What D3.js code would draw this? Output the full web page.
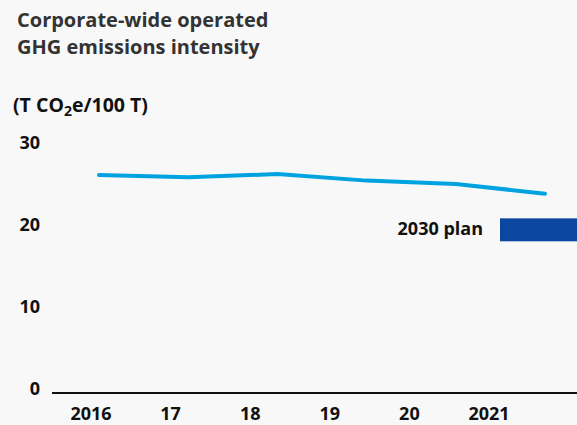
<!DOCTYPE html>
<html>
<head>
<meta charset="utf-8">
<script src="https://cdn.jsdelivr.net/npm/d3@7"></script>
<style>
  html, body { margin: 0; padding: 0; background: #f8f8f8; }
  svg { display: block; font-family: "Open Sans", "Noto Sans", sans-serif; }
</style>
</head>
<body>
<svg id="chart" width="577" height="425"></svg>
<script>
var years = ["2016", "2017", "2018", "2019", "2020", "2021"];
var yearLabels = ["2016", "17", "18", "19", "20", "2021"];
var intensity = [26.6, 26.3, 26.7, 25.9, 25.5, 24.3];
var yTicks = [0, 10, 20, 30];
var plan2030 = [18.5, 21.3]; // low / high of the plan band
var titleLines = ["Corporate-wide operated", "GHG emissions intensity"];

var chart = d3.select("#chart");

var y = d3.scaleLinear().domain([0, 30]).range([393, 147]);
// line points and axis labels sit on slightly different grids in the original
var xLine = d3.scalePoint().domain(years).range([99, 545]);
var xLabel = d3.scalePoint().domain(years).range([91, 489]);

// title
chart.append("g")
  .attr("fill", "#333333")
  .attr("font-size", 20)
  .attr("font-weight", "bold")
  .selectAll("text").data(titleLines)
  .enter().append("text")
  .attr("x", 17)
  .attr("y", function(d, i) { return 27 + i * 27 })
  .text(function(d) { return d });

// unit
var unit = chart.append("text")
  .attr("x", 13)
  .attr("y", 112)
  .attr("fill", "#111111")
  .attr("font-size", 19.5)
  .attr("font-weight", "bold");
unit.append("tspan").text("(T CO");
unit.append("tspan").attr("font-size", 14).attr("dy", 4).text("2");
unit.append("tspan").attr("dy", -4).text("e/100 T)");

// y labels
chart.append("g")
  .attr("fill", "#111111")
  .attr("font-size", 18)
  .attr("font-weight", "bold")
  .attr("text-anchor", "end")
  .attr("dominant-baseline", "middle")
  .selectAll("text").data(yTicks)
  .enter().append("text")
  .attr("x", 40)
  .attr("y", function(d) { return y(d) - 3 })
  .text(function(d) { return d });

// baseline
chart.append("line")
  .attr("x1", 52).attr("x2", 577)
  .attr("y1", y(0)).attr("y2", y(0))
  .attr("stroke", "#111111")
  .attr("stroke-width", 2);

// x labels
chart.append("g")
  .attr("fill", "#111111")
  .attr("font-size", 18)
  .attr("font-weight", "bold")
  .attr("text-anchor", "middle")
  .selectAll("text").data(years)
  .enter().append("text")
  .attr("x", function(d) { return xLabel(d) })
  .attr("y", 420)
  .text(function(d, i) { return yearLabels[i] });

// 2030 plan band
chart.append("rect")
  .attr("x", 500)
  .attr("width", 77)
  .attr("y", y(plan2030[1]))
  .attr("height", y(plan2030[0]) - y(plan2030[1]))
  .attr("fill", "#0b47a0");

chart.append("text")
  .attr("x", 483)
  .attr("y", y((plan2030[0] + plan2030[1]) / 2))
  .attr("dominant-baseline", "middle")
  .attr("text-anchor", "end")
  .attr("fill", "#111111")
  .attr("font-size", 18)
  .attr("font-weight", "bold")
  .text("2030 plan");

// intensity line
var line = d3.line()
  .x(function(d, i) { return xLine(years[i]) })
  .y(function(d) { return y(d) });

chart.append("path")
  .datum(intensity)
  .attr("fill", "none")
  .attr("stroke", "#00a3e0")
  .attr("stroke-width", 4)
  .attr("stroke-linecap", "round")
  .attr("stroke-linejoin", "round")
  .attr("d", line);
</script>
</body>
</html>
